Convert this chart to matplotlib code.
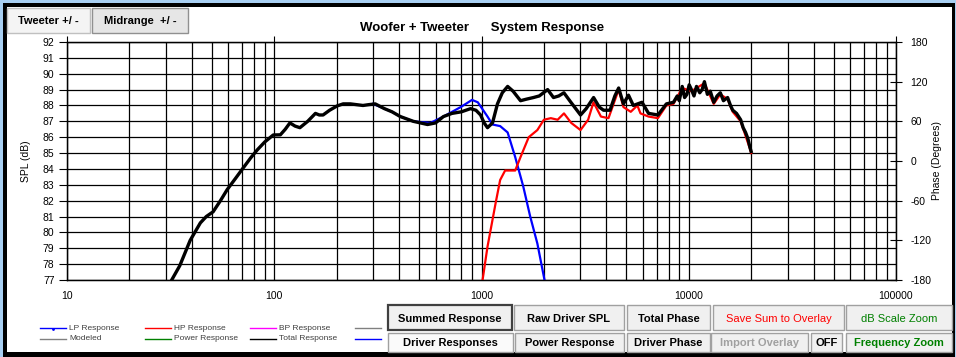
import matplotlib
matplotlib.use("Agg")
import matplotlib.pyplot as plt
from matplotlib.patches import Rectangle
from matplotlib.ticker import LogLocator, NullFormatter

# Total (summed) response, Hz / dB
total_freq = [32, 35, 39.3, 44, 47, 50.7, 55, 59.3, 65, 70.8, 77, 82.8, 90, 98.9,
              107, 113, 119, 126, 133, 145, 158, 165, 172, 185, 201, 215, 233, 250,
              268, 285, 307, 340, 370, 406, 469, 549, 600, 655, 720, 800, 885, 940,
              990, 1030, 1069, 1130, 1194, 1260, 1337, 1420, 1543, 1650, 1781, 1900,
              2085, 2225, 2360, 2498, 2700, 3005, 3200, 3474, 3700, 3880, 4170, 4400,
              4590, 4840, 5120, 5400, 5950, 6400, 7100, 7800, 8440, 8800, 9000, 9300,
              9550, 9800, 10050, 10300, 10600, 10900, 11300, 11600, 11900, 12300,
              12700, 13200, 13700, 14200, 14700, 15400, 15900, 16300, 17000, 17800,
              18300, 18800, 19300, 19700, 20000]
total_spl = [77.0, 77.9, 79.5, 80.6, 81.0, 81.3, 82.0, 82.7, 83.4, 84.06, 84.7, 85.2,
             85.7, 86.14, 86.15, 86.5, 86.9, 86.7, 86.6, 87.0, 87.5, 87.4, 87.4, 87.7,
             87.97, 88.1, 88.1, 88.05, 88.0, 88.05, 88.1, 87.8, 87.6, 87.3, 87.0, 86.8,
             86.9, 87.3, 87.5, 87.6, 87.8, 87.7, 87.4, 86.9, 86.6, 86.9, 88.1, 88.8,
             89.2, 88.9, 88.3, 88.4, 88.5, 88.6, 89.0, 88.5, 88.6, 88.8, 88.2, 87.4,
             87.8, 88.5, 87.9, 87.7, 87.7, 88.6, 89.1, 88.1, 88.65, 88.0, 88.2, 87.5,
             87.4, 88.1, 88.2, 88.6, 88.3, 89.2, 88.5, 88.7, 89.3, 89.0, 88.6, 89.2,
             88.8, 89.0, 89.5, 88.7, 88.9, 88.2, 88.6, 88.8, 88.3, 88.5, 88.0, 87.7,
             87.5, 87.1, 86.6, 86.3, 85.9, 85.4, 85.1]

# Low pass (woofer) response
lp_freq = [300, 340, 370, 406, 469, 567, 655, 794, 900, 960, 1069, 1130, 1230,
           1337, 1454, 1590, 1718, 1860, 2000, 2050]
lp_spl = [88.1, 87.8, 87.6, 87.3, 87.0, 86.9, 87.3, 87.9, 88.35, 88.2, 87.3, 86.8,
          86.7, 86.3, 84.75, 82.9, 81.0, 79.3, 77.2, 76.5]

# High pass (tweeter) response
hp_freq = [1000, 1012, 1069, 1170, 1230, 1300, 1454, 1543, 1690, 1860, 2000, 2160,
           2330, 2500, 2710, 3005, 3270, 3470, 3770, 4100, 4590, 4840, 5250, 5650,
           5850, 6400, 7100, 7800, 8440, 9300, 10300, 11900, 13200, 14200, 15400,
           16300, 17800, 19700, 20000]
hp_spl = [76.8, 77.0, 79.1, 81.85, 83.3, 83.9, 83.9, 84.75, 86.0, 86.45, 87.1, 87.2,
          87.1, 87.5, 86.9, 86.45, 87.1, 88.2, 87.3, 87.2, 89.0, 87.9, 87.6, 88.0,
          87.5, 87.3, 87.2, 88.0, 88.1, 89.1, 88.9, 89.4, 88.1, 88.7, 88.4, 87.6,
          87.0, 85.3, 85.0]

spl_ticks = list(range(77, 93))
phase_ticks = [-180, -120, -60, 0, 60, 120, 180]
freq_ticks = [10, 100, 1000, 10000, 100000]
freq_labels = ["10", "100", "1000", "10000", "100000"]

legend_rows = [
    [("LP Response", "#0000ff"), ("HP Response", "#ff0000"),
     ("BP Response", "#ff00ff"), ("", "#808080")],
    [("Modeled", "#808080"), ("Power Response", "#008000"),
     ("Total Response", "#000000"), ("", "#0000ff")],
]

W, H = 956, 357
plt.rcParams['font.family'] = ['Liberation Sans', 'DejaVu Sans']
plt.rcParams['axes.unicode_minus'] = False

fig = plt.figure(figsize=(W / 100, H / 100), dpi=100, facecolor="#a8cff2")

# background panel in pixel coordinates
bg = fig.add_axes([0, 0, 1, 1], zorder=0)
bg.set_xlim(0, W)
bg.set_ylim(H, 0)
bg.axis("off")
bg.add_patch(Rectangle((3, 3), 952, 354, facecolor="black", edgecolor="none"))
bg.add_patch(Rectangle((7, 7), 945, 345, facecolor="white", edgecolor="none"))


def button(x0, y0, x1, y1, text, color="black", face="#f0f0f0", edge="#a0a0a0",
           size=8, weight="bold", lw=1.0):
    bg.add_patch(Rectangle((x0, y0), x1 - x0, y1 - y0, facecolor=face,
                           edgecolor=edge, linewidth=lw))
    bg.text((x0 + x1) / 2, (y0 + y1) / 2 + 1, text, color=color, fontsize=size,
            fontweight=weight, ha="center", va="center")


# top buttons
button(7, 8, 90, 33, "Tweeter +/ -", face="#f4f4f4", edge="#c0c0c0")
button(92, 8, 188, 33, "Midrange  +/ -", face="#e6e6e6", edge="#909090")

# bottom buttons
button(388, 305, 512, 330, "Summed Response", edge="#404040", lw=1.6)
button(514, 305, 624, 330, "Raw Driver SPL")
button(627, 305, 710, 330, "Total Phase")
button(713, 305, 844, 330, "Save Sum to Overlay", color="#ff0000", weight="normal")
button(846, 305, 952, 330, "dB Scale Zoom", color="#008000", weight="normal")
button(388, 333, 513, 352, "Driver Responses", face="#fafafa")
button(515, 333, 624, 352, "Power Response")
button(627, 333, 710, 352, "Driver Phase")
button(711, 333, 808, 352, "Import Overlay", color="#a0a0a0")
button(811, 333, 842, 352, "OFF")
button(846, 333, 952, 352, "Frequency Zoom", color="#008000")

# legend
for r, row in enumerate(legend_rows):
    y = 328 + r * 11
    for c, (name, col) in enumerate(row):
        x = 40 + c * 105
        bg.plot([x, x + 26], [y, y], color=col, lw=1.0)
        if name:
            bg.text(x + 29, y, name, fontsize=6, color="#404040", va="center")
bg.plot([53], [329], marker=".", color="#0000ff", ms=2)

bg.text(482, 28, "Woofer + Tweeter      System Response", fontsize=9.5,
        fontweight="bold", ha="center", va="center")
bg.text(26, 161, "SPL (dB)", rotation=90, fontsize=7.5, ha="center", va="center")
bg.text(937, 161, "Phase (Degrees)", rotation=90, fontsize=7.5, ha="center",
        va="center")

# main chart
ax = fig.add_axes([67 / W, 1 - 280 / H, (896 - 67) / W, (280 - 42) / H], zorder=1)
ax.set_xscale("log")
ax.set_xlim(10, 100000)
ax.set_ylim(77, 92)
ax.xaxis.set_minor_locator(LogLocator(base=10, subs=range(2, 10)))
ax.xaxis.set_minor_formatter(NullFormatter())
ax.set_xticks(freq_ticks, freq_labels)
ax.set_yticks(spl_ticks)
ax.grid(which="both", color="black", lw=0.9)
ax.tick_params(axis="x", which="major", bottom=False, top=True, direction="out",
               length=4, labelsize=7.5, pad=4, color="black")
ax.tick_params(axis="x", which="minor", bottom=False, top=False)
ax.tick_params(axis="y", direction="out", length=6, labelsize=7.5, pad=3)
for s in ax.spines.values():
    s.set_color("black")
    s.set_linewidth(1.0)

ax.plot(lp_freq, lp_spl, color="#0000ff", lw=1.6, zorder=3)
ax.plot(hp_freq, hp_spl, color="#ff0000", lw=1.6, zorder=3)
ax.plot(total_freq, total_spl, color="black", lw=2.4, zorder=4)

ax2 = ax.twinx()
ax2.set_ylim(-180, 180)
ax2.set_yticks(phase_ticks)
ax2.tick_params(axis="y", direction="inout", length=9, labelsize=7.5, pad=6)

fig.savefig("out.png", dpi=100, facecolor=fig.get_facecolor())
